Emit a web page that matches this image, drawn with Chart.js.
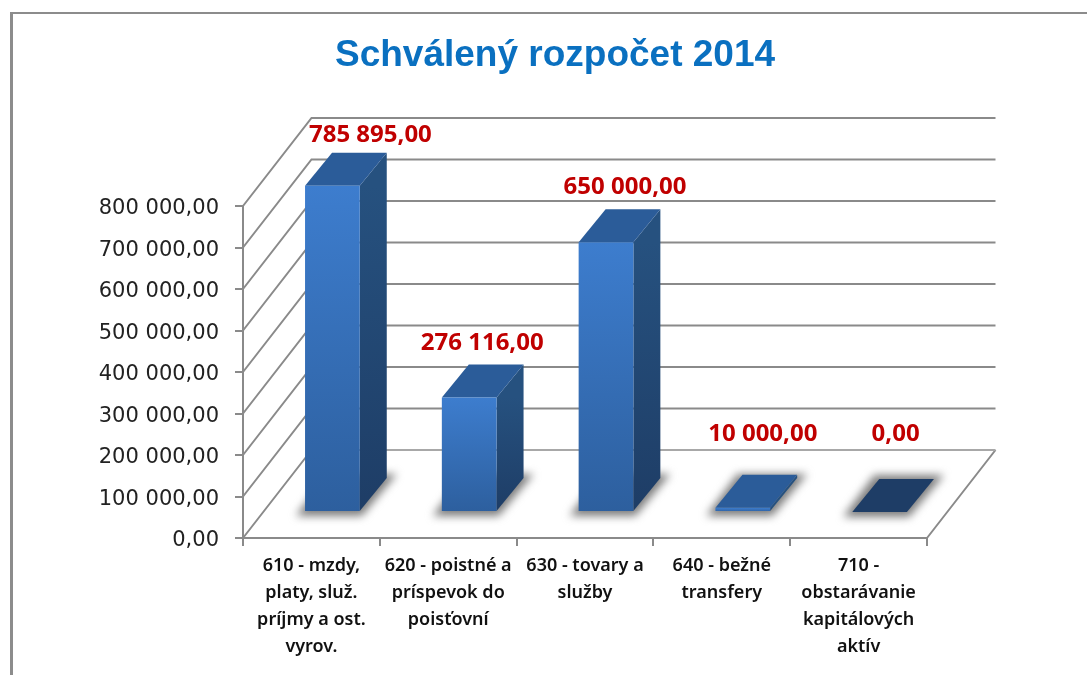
<!DOCTYPE html>
<html lang="sk">
<head>
<meta charset="utf-8">
<title>Schválený rozpočet 2014</title>
<script src="https://cdn.jsdelivr.net/npm/chart.js@4"></script>
<style>
    html, body { margin: 0; padding: 0; background: #fff; }
    canvas { display: block; }
</style>
</head>
<body>
<canvas id="budget" width="1087" height="675"></canvas>
<script>
const chartTitle = 'Schválený rozpočet 2014';
const categories = [
    ['610 - mzdy,', 'platy, služ.', 'príjmy a ost.', 'vyrov.'],
    ['620 - poistné a', 'príspevok do', 'poisťovní'],
    ['630 - tovary a', 'služby'],
    ['640 - bežné', 'transfery'],
    ['710 -', 'obstarávanie', 'kapitálových', 'aktív']
];
const budgetValues = [785895, 276116, 650000, 10000, 0];
const axisMax = 800000;
const axisStep = 100000;

// 3D look, all in pixels relative to the front plane
const wall = {x: 68.5, y: -88};
const barShift = {x: 21, y: -26};
const barDepth = {x: 27, y: -33};
// value labels were placed by hand in the original, relative to the bar's front top
const labelNudge = [[38, -51], [13, -54], [19, -55], [20, -74], [16, -78]];

const AXIS_GREY = '#8a8a8a';

function money(v) {
    let whole = String(Math.round(v)).replace(/\B(?=(\d{3})+$)/g, '\u00a0');
    return whole + ',00';
}

function quad(ctx, pts, fill) {
    ctx.beginPath();
    ctx.moveTo(pts[0][0], pts[0][1]);
    for (let i = 1; i < pts.length; i++) {
        ctx.lineTo(pts[i][0], pts[i][1]);
    }
    ctx.closePath();
    ctx.fillStyle = fill;
    ctx.fill();
}

const frame3d = {
    id: 'frame3d',
    beforeDraw(chart) {
        let ctx = chart.ctx;
        ctx.save();
        ctx.fillStyle = '#8c8c8c';
        ctx.fillRect(10, 12, 3, 663);
        ctx.fillRect(10, 12, 1077, 2);
        ctx.restore();
    },
    beforeDatasetsDraw(chart) {
        let ctx = chart.ctx,
            xs = chart.scales.x,
            ys = chart.scales.y,
            left = xs.left,
            right = xs.right;

        ctx.save();
        ctx.strokeStyle = AXIS_GREY;
        ctx.lineWidth = 2;
        ctx.beginPath();
        // side wall and back wall grid lines
        ys.ticks.forEach(t => {
            let y = ys.getPixelForValue(t.value);
            ctx.moveTo(left, y);
            ctx.lineTo(left + wall.x, y + wall.y);
            if (t.value > 0) {
                ctx.lineTo(right + wall.x, y + wall.y);
            }
        });
        // floor right edge
        ctx.moveTo(right, ys.bottom);
        ctx.lineTo(right + wall.x, ys.bottom + wall.y);
        ctx.stroke();
        // back edge of the floor is paler
        ctx.strokeStyle = '#a8a8a8';
        ctx.beginPath();
        ctx.moveTo(left + wall.x, ys.bottom + wall.y);
        ctx.lineTo(right + wall.x, ys.bottom + wall.y);
        ctx.stroke();
        ctx.restore();

        let meta = chart.getDatasetMeta(0);

        // blurred floor shadow, a bit bigger than the bar's foot
        meta.data.forEach(bar => {
            let x0 = bar.x - bar.width / 2 + barShift.x,
                x1 = bar.x + bar.width / 2 + barShift.x,
                y0 = bar.base + barShift.y,
                yBack = y0 + barDepth.y;
            ctx.save();
            ctx.filter = 'blur(4px)';
            quad(ctx, [
                [x0 - 9, y0 + 5],
                [x1 + 2, y0 + 5],
                [x1 + barDepth.x + 10, yBack - 4],
                [x0 + barDepth.x - 5, yBack - 4]
            ], 'rgb(125,125,125)');
            ctx.restore();
        });

        // side and top faces, the front face is the real chart bar
        meta.data.forEach((bar, i) => {
            let x0 = bar.x - bar.width / 2 + barShift.x,
                x1 = bar.x + bar.width / 2 + barShift.x,
                top = bar.y + barShift.y,
                bottom = bar.base + barShift.y,
                side = ctx.createLinearGradient(0, top, 0, bottom);
            side.addColorStop(0, '#26517f');
            side.addColorStop(1, '#1e3d66');
            if (bottom > top) {
                quad(ctx, [[x1, top], [x1 + barDepth.x, top + barDepth.y], [x1 + barDepth.x, bottom + barDepth.y], [x1, bottom]], side);
            }
            quad(ctx, [[x0, top], [x1, top], [x1 + barDepth.x, top + barDepth.y], [x0 + barDepth.x, top + barDepth.y]],
                budgetValues[i] === 0 ? '#1e3d66' : '#2b5c99');
        });
    },
    beforeDatasetDraw(chart) {
        chart.ctx.save();
        chart.ctx.translate(barShift.x, barShift.y);
    },
    afterDatasetDraw(chart) {
        chart.ctx.restore();
    },
    afterDatasetsDraw(chart) {
        let ctx = chart.ctx;
        ctx.save();
        ctx.font = '700 24px "Noto Sans"';
        ctx.fillStyle = '#c00000';
        ctx.textAlign = 'center';
        ctx.textBaseline = 'middle';
        chart.getDatasetMeta(0).data.forEach((bar, i) => {
            ctx.fillText(money(budgetValues[i]),
                bar.x + barShift.x + labelNudge[i][0],
                bar.y + barShift.y + labelNudge[i][1]);
        });
        ctx.restore();
    }
};

new Chart(document.getElementById('budget'), {
    type: 'bar',
    plugins: [frame3d],
    data: {
        labels: categories,
        datasets: [{
            data: budgetValues,
            barPercentage: 0.4,
            categoryPercentage: 1,
            clip: false,
            backgroundColor: function (c) {
                let ys = c.chart.scales.y,
                    top = ys ? ys.getPixelForValue(c.raw) : NaN;
                // scales have no pixels yet on the first pass
                if (c.type !== 'data' || !Number.isFinite(top) || !Number.isFinite(ys.bottom)) {
                    return '#3c7bcb';
                }
                let grad = c.chart.ctx.createLinearGradient(0, top, 0, ys.bottom);
                grad.addColorStop(0, '#3d7dce');
                grad.addColorStop(1, '#2d5f9e');
                return grad;
            }
        }]
    },
    options: {
        responsive: false,
        animation: false,
        events: [],
        layout: {padding: {left: 93, right: 70, top: 0, bottom: 0}},
        plugins: {
            legend: {display: false},
            tooltip: {enabled: false},
            title: {
                display: true,
                text: chartTitle,
                color: '#0a70c0',
                font: {family: '"Liberation Sans"', size: 37, weight: 'bold', lineHeight: 1.2},
                padding: {top: 34, bottom: 127.6}
            }
        },
        scales: {
            x: {
                afterFit: s => { s.height = 137; },
                border: {color: AXIS_GREY, width: 2},
                grid: {drawOnChartArea: false, color: AXIS_GREY, lineWidth: 2, tickLength: 8, offset: true},
                ticks: {
                    autoSkip: false,
                    maxRotation: 0,
                    minRotation: 0,
                    padding: 6,
                    color: '#111',
                    font: {family: '"Noto Sans"', size: 18, weight: '600', lineHeight: '27px'}
                }
            },
            y: {
                min: 0,
                max: axisMax,
                afterFit: s => { s.width = 150; },
                border: {color: AXIS_GREY, width: 2},
                grid: {drawOnChartArea: false, color: AXIS_GREY, lineWidth: 2, tickLength: 8},
                ticks: {
                    stepSize: axisStep,
                    padding: 16,
                    labelOffset: 3,
                    color: '#222',
                    font: {family: '"DejaVu Sans"', size: 21},
                    callback: v => money(v)
                }
            },
            // empty right axis, only keeps the plot off-centre under the title
            spacer: {
                axis: 'y',
                position: 'right',
                afterFit: s => { s.width = 90; },
                border: {display: false},
                grid: {display: false},
                ticks: {display: false}
            }
        }
    }
});
</script>
</body>
</html>
